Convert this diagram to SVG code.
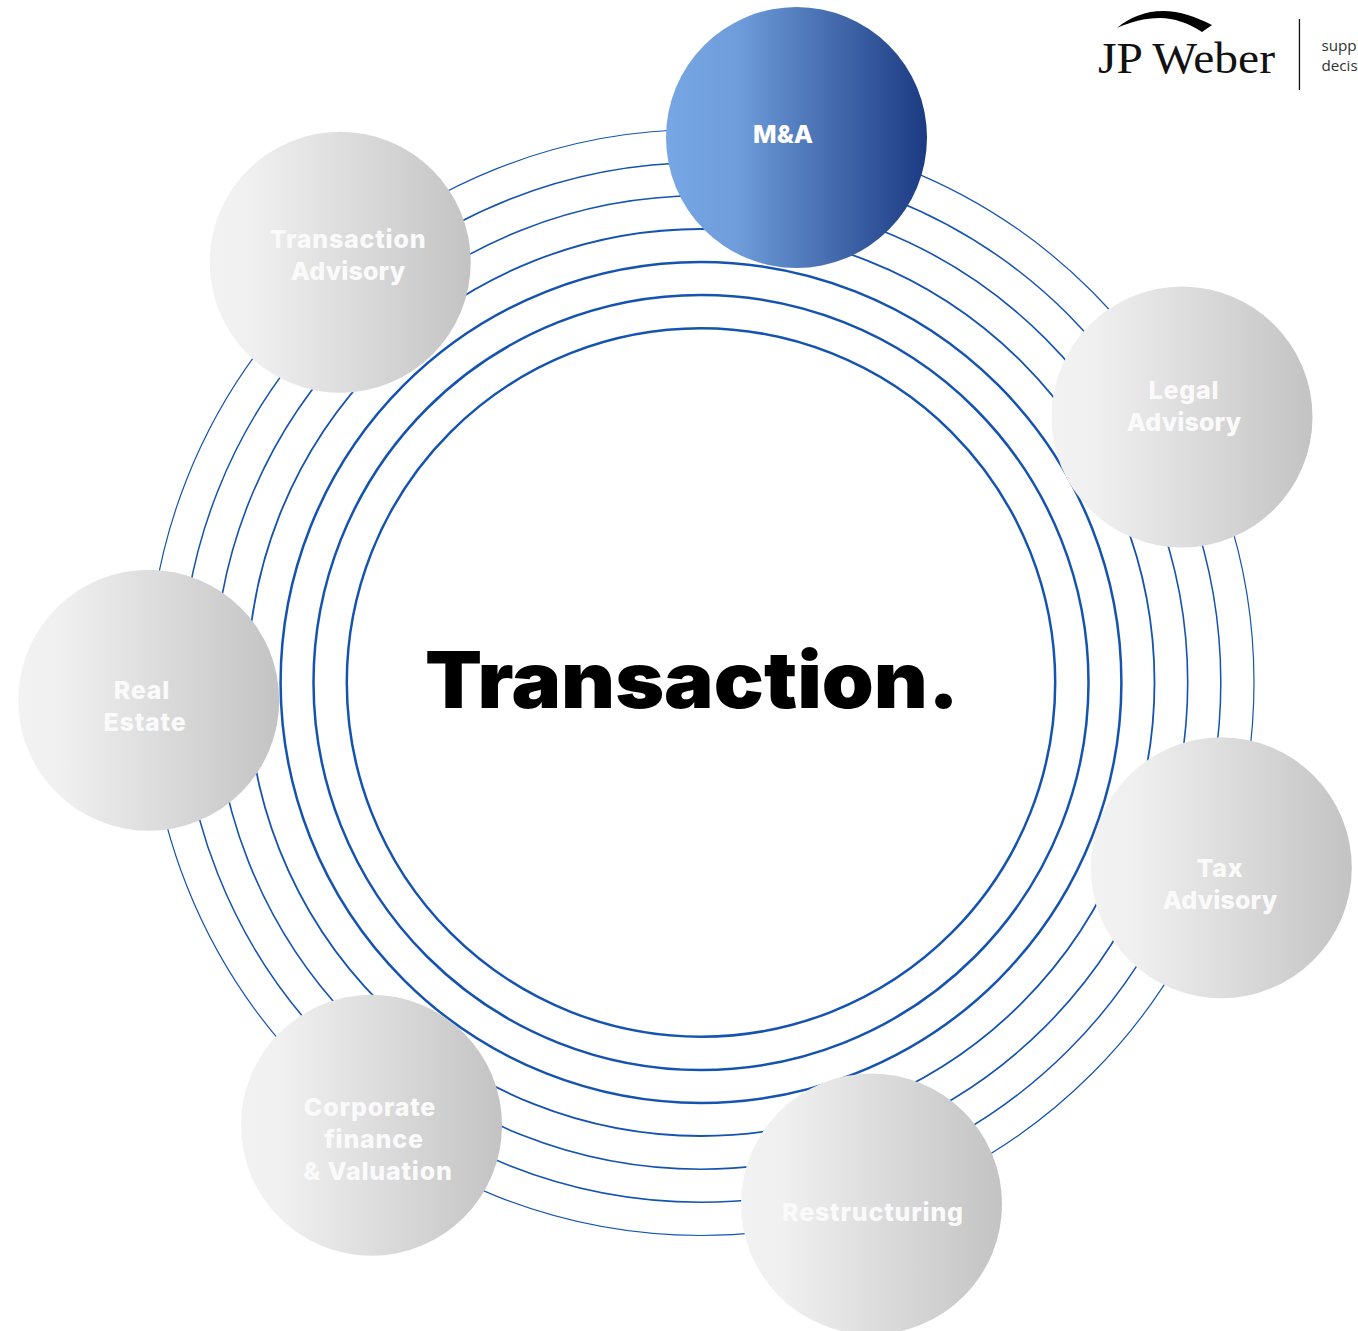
<svg xmlns="http://www.w3.org/2000/svg" width="1358" height="1331" viewBox="0 0 1358 1331">
<defs>
<linearGradient id="g"><stop offset="0" stop-color="#f2f2f2"/><stop offset="0.16" stop-color="#f0f0f0"/><stop offset="1" stop-color="#c3c3c3"/></linearGradient>
<linearGradient id="b"><stop offset="0" stop-color="#76a6e3"/><stop offset="0.27" stop-color="#6f9ddb"/><stop offset="1" stop-color="#1b3a82"/></linearGradient>
</defs>
<style>
.r{fill:none;stroke:#1553b0}
.c{fill:url(#g)}
.t{font-family:"Inter","Liberation Sans",sans-serif;font-weight:800;font-size:25px;letter-spacing:.8px;fill:#fafafa;text-anchor:middle}
.t.a{letter-spacing:.15px}
.s{font-family:"Open Sans",sans-serif;font-size:15.2px;fill:#333}
</style>
<rect width="1358" height="1331" fill="#fff"/>
<g id="connectors">
<circle class="r" cx="701" cy="682.500" r="354.200" stroke-width="2.500"/>
<circle class="r" cx="701" cy="682.500" r="387.500" stroke-width="2.500"/>
<circle class="r" cx="701" cy="682.500" r="420.400" stroke-width="2.500"/>
<circle class="r" cx="701" cy="682.500" r="453.500" stroke-width="1.800"/>
<circle class="r" cx="701" cy="682.500" r="486.700" stroke-width="1.600"/>
<circle class="r" cx="701" cy="682.500" r="519.800" stroke-width="1.500"/>
<circle class="r" cx="701" cy="682.500" r="553" stroke-width="1.200"/>
</g>
<g id="center"><text x="425" y="708" font-family="Inter,'Liberation Sans',sans-serif" font-weight="900" font-size="78" textLength="534" lengthAdjust="spacingAndGlyphs" fill="#000">Transaction.</text></g>
<g id="ma"><circle cx="796.500" cy="137.500" r="130.500" fill="url(#b)"/><text class="t" style="letter-spacing:0;fill:#fff" x="783" y="143">M&amp;A</text></g>
<g id="transaction-advisory"><circle class="c" cx="340.200" cy="262.200" r="130.500"/><text class="t" x="348" y="248">Transaction</text><text class="t a" x="348" y="280">Advisory</text></g>
<g id="legal-advisory"><circle class="c" cx="1182" cy="417" r="130.500"/><text class="t" x="1184" y="399">Legal</text><text class="t a" x="1184" y="431">Advisory</text></g>
<g id="tax-advisory"><circle class="c" cx="1221.300" cy="867.800" r="130.500"/><text class="t" x="1220" y="877">Tax</text><text class="t a" x="1220" y="909">Advisory</text></g>
<g id="restructuring"><circle class="c" cx="871.500" cy="1204" r="130.500"/><text class="t" x="873" y="1221">Restructuring</text></g>
<g id="corporate-finance"><circle class="c" cx="371.500" cy="1125.300" r="130.500"/><text class="t" x="370" y="1116">Corporate</text><text class="t" x="374" y="1148">finance</text><text class="t" x="378" y="1180">&amp; Valuation</text></g>
<g id="real-estate"><circle class="c" cx="148.700" cy="700.300" r="130.500"/><text class="t" x="142" y="699">Real</text><text class="t" x="145" y="731">Estate</text></g>
<g id="logo">
<path d="M1117 28C1130 17 1146 11 1163 11C1180 11 1196 17 1212 25L1202 32C1188 23 1174 18 1160 18C1145 18 1130 22 1117 28Z" fill="#000"/>
<text x="1098" y="73" font-family="'Liberation Serif',serif" font-size="45" textLength="177" lengthAdjust="spacingAndGlyphs" fill="#111">JP Weber</text>
<rect x="1298.800" y="19" width="1.300" height="71" fill="#111"/>
<text class="s" x="1321.500" y="51">supp</text>
<text class="s" x="1321.500" y="71">decis</text>
</g>
</svg>
